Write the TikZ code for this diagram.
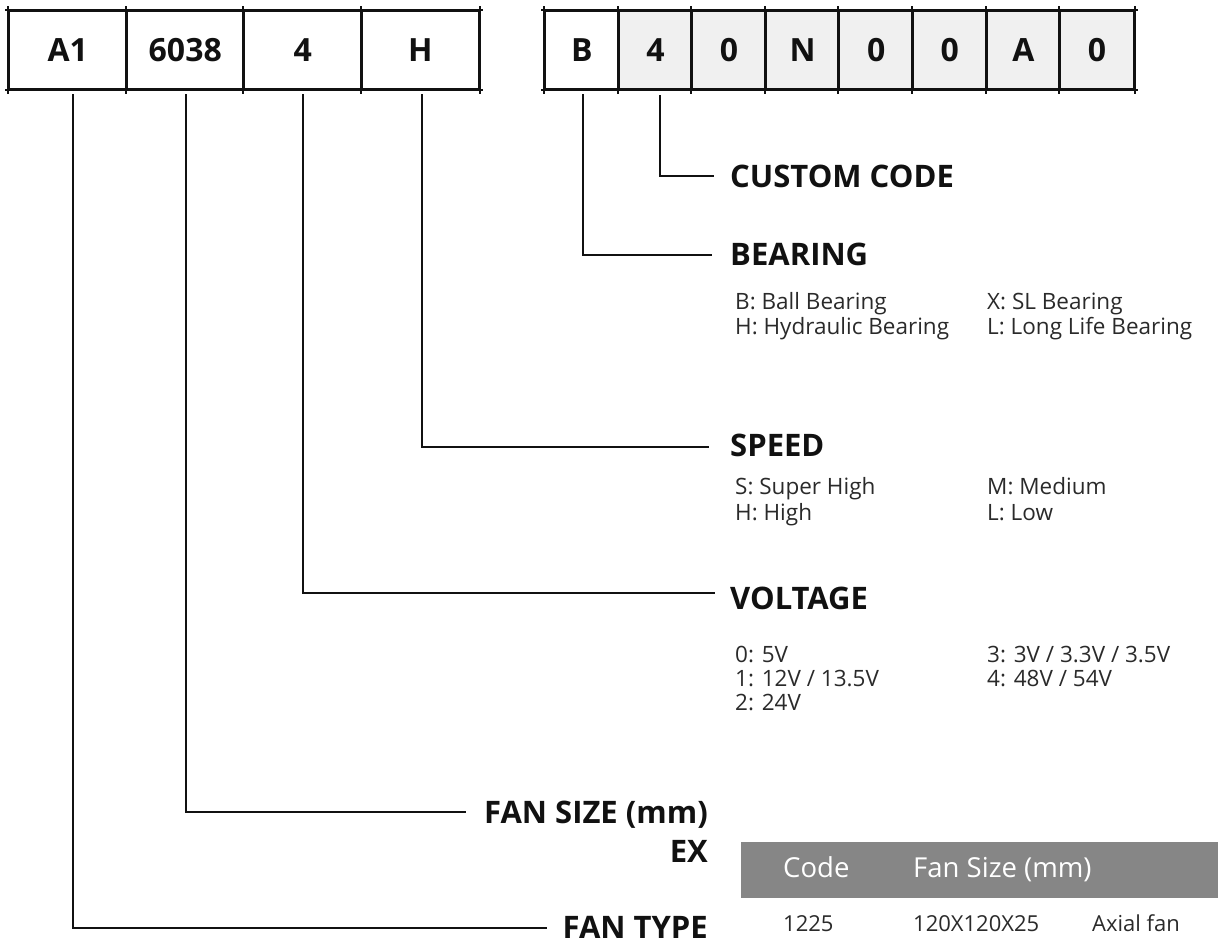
\documentclass[tikz,border=0pt]{standalone}
\usepackage{fontspec}
\setmainfont{Open Sans}
\usetikzlibrary{calc}
\definecolor{cellgray}{HTML}{F0F0F0}
\definecolor{bandgray}{HTML}{868686}
\definecolor{subtxt}{HTML}{2A2A2A}
\definecolor{ink}{HTML}{111111}
\begin{document}
\begin{tikzpicture}[x=1pt,y=-1pt,
  cellbox/.style={draw=ink, line width=2pt, minimum height=78pt, inner sep=0pt,
    text=ink, font=\fontsize{32}{32}\selectfont\bfseries},
  leftcell/.style={cellbox, minimum width=117.5pt},
  rightcell/.style={cellbox, minimum width=73.6pt, fill=cellgray},
  gridline/.style={draw=ink, line width=2pt},
  conn/.style={draw=ink, line width=2pt},
  heading/.style={inner sep=0pt, text=ink, text height=22pt, text depth=0pt,
    font=\fontsize{31}{31}\selectfont\bfseries},
  item/.style={inner sep=0pt, anchor=base west, text=subtxt,
    font=\fontsize{22.5}{22.5}\selectfont},
  headtxt/.style={inner sep=0pt, anchor=base west, text=white,
    font=\fontsize{27.5}{27.5}\selectfont},
  rowtxt/.style={inner sep=0pt, anchor=base west, text=subtxt,
    font=\fontsize{22}{22}\selectfont}
]
\useasboundingbox (0,0) rectangle (1218,943);

% ---- left code cells
\node[leftcell] (a1)   at (67.75,50)  {A1};
\node[leftcell] (c6038) at (185.25,50) {6038};
\node[leftcell] (c4)   at (302.75,50) {4};
\node[leftcell] (cH)   at (420.25,50) {H};
% tick extensions
\draw[gridline] ($(a1.north west)+(-3,0)$) -- ($(cH.north east)+(3,0)$);
\draw[gridline] ($(a1.south west)+(-3,0)$) -- ($(cH.south east)+(3,0)$);
\foreach \n in {a1,c6038,c4,cH}{
  \draw[gridline] ($(\n.north west)+(0,-4)$) -- ($(\n.south west)+(0,4)$);
}
\draw[gridline] ($(cH.north east)+(0,-4)$) -- ($(cH.south east)+(0,4)$);

% ---- right code cells
\node[rightcell, fill=white] (rB) at (581.8,50) {B};
\node[rightcell] (r4)  at (655.4,50)  {4};
\node[rightcell] (r0a) at (729.0,50)  {0};
\node[rightcell] (rN)  at (802.6,50)  {N};
\node[rightcell] (r0b) at (876.2,50)  {0};
\node[rightcell] (r0c) at (949.8,50)  {0};
\node[rightcell] (rA)  at (1023.4,50) {A};
\node[rightcell] (r0d) at (1097.0,50) {0};
\draw[gridline] ($(rB.north west)+(-3,0)$) -- ($(r0d.north east)+(3,0)$);
\draw[gridline] ($(rB.south west)+(-3,0)$) -- ($(r0d.south east)+(3,0)$);
\foreach \n in {rB,r4,r0a,rN,r0b,r0c,rA,r0d}{
  \draw[gridline] ($(\n.north west)+(0,-4)$) -- ($(\n.south west)+(0,4)$);
}
\draw[gridline] ($(r0d.north east)+(0,-4)$) -- ($(r0d.south east)+(0,4)$);

% ---- headings
\node[heading, anchor=base west] (custom)  at (730,187) {CUSTOM CODE};
\node[heading, anchor=base west] (bearing) at (730,265) {BEARING};
\node[heading, anchor=base west] (speed)   at (730,456) {SPEED};
\node[heading, anchor=base west] (voltage) at (730,609) {VOLTAGE};
\node[heading, anchor=base east] (fansize) at (708,823) {FAN SIZE (mm)};
\node[heading, anchor=base east] (ex)      at (708,862) {EX};
\node[heading, anchor=base east] (fantype) at (708,938) {FAN TYPE};

% ---- connectors
\draw[conn] ($(r4.south)+(5,5)$)   |- ([xshift=-16pt]custom.west);
\draw[conn] ($(rB.south)+(1,4)$)   |- ([xshift=-18pt,yshift=-1pt]bearing.west);
\draw[conn] ($(cH.south)+(1.5,4)$) |- ([xshift=-21pt,yshift=-2pt]speed.west);
\draw[conn] ($(c4.south)+(0,4)$)   |- ([xshift=-15pt,yshift=5pt]voltage.west);
\draw[conn] ($(c6038.south)+(0.5,4)$) |- ([xshift=-18pt]fansize.west);
\draw[conn] ($(a1.south)+(5,4)$)   |- ([xshift=-15pt,yshift=-1pt]fantype.west);

% ---- bearing items
\node[item] (bb) at (735,309) {B: Ball Bearing};
\node[item] (bh) at (735,334) {H: Hydraulic Bearing};
\node[item] (bx) at (987,309) {X: SL Bearing};
\node[item] (bl) at (987,334) {L: Long Life Bearing};
% ---- speed items
\node[item] (ss) at (735,494) {S: Super High};
\node[item] (sh) at (735,520) {H: High};
\node[item] (sm) at (987,494) {M: Medium};
\node[item] (sl) at (987,520) {L: Low};
% ---- voltage items
\node[item] (v0) at (735,662) {0: 5V};
\node[item] (v1) at (735,686) {1: 12V / 13.5V};
\node[item] (v2) at (735,710) {2: 24V};
\node[item] (v3) at (987,662) {3: 3V / 3.3V / 3.5V};
\node[item] (v4) at (987,686) {4: 48V / 54V};

% ---- example table
\node[fill=bandgray, minimum width=477pt, minimum height=56pt, inner sep=0pt,
  anchor=north west] (band) at (741,842) {};
\node[headtxt] (hcode) at (783,877) {Code};
\node[headtxt] (hsize) at (913,877) {Fan Size (mm)};
\node[rowtxt] (tcode) at (783,931) {1225};
\node[rowtxt] (tsize) at (913,931) {120X120X25};
\node[rowtxt] (ttype) at (1092,931) {Axial fan};
\end{tikzpicture}
\end{document}
